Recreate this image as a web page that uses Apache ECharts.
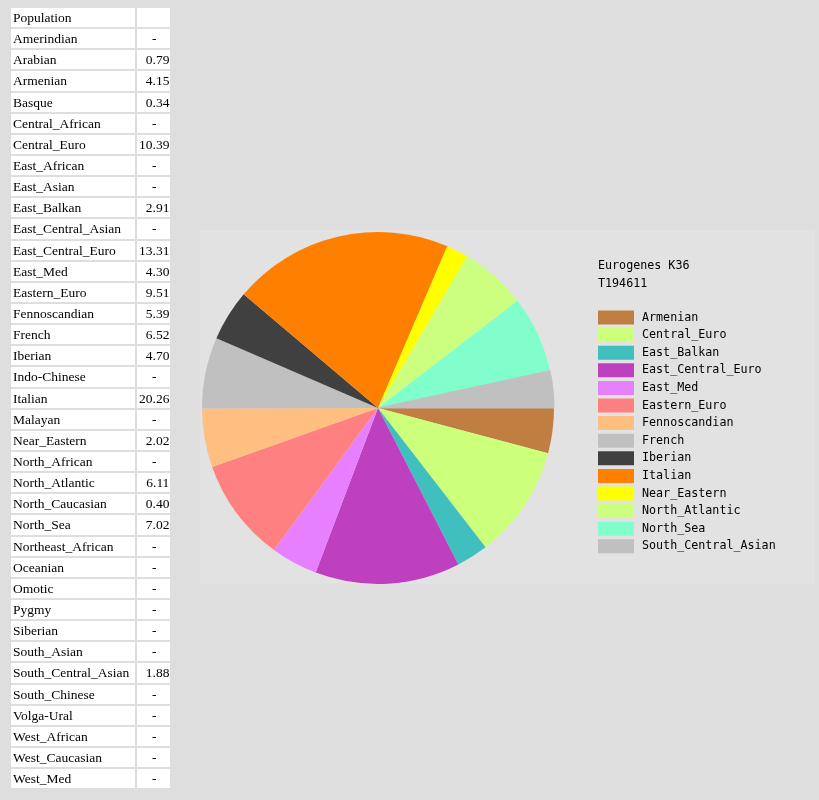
<!DOCTYPE html>
<html>
<head>
<meta charset="utf-8">
<script src="https://cdn.jsdelivr.net/npm/echarts@6/dist/echarts.min.js"></script>
<style>
  html, body { margin: 0; padding: 0; background: #dedede; }
  #page { position: relative; width: 819px; height: 800px; overflow: hidden; }
  #box { position: absolute; left: 200px; top: 230px; width: 615px; height: 354px; background: #e2e2e2; }
  #pie-chart { position: absolute; left: 0; top: 0; width: 819px; height: 800px; }
  #pop-table {
    position: absolute; left: 9px; top: 6px;
    border-collapse: separate; border-spacing: 2px;
    font-family: "Liberation Serif", serif; font-size: 13.5px; color: #000;
  }
  #pop-table td {
    background: #fff; height: 19.14px; box-sizing: border-box;
    padding: 0 1px 0 2px; line-height: 19.14px; white-space: nowrap;
  }
  #pop-table td.name { width: 124px; }
  #pop-table td.val { width: 33px; text-align: right; }
  #pop-table td.nil { text-align: center; }
</style>
</head>
<body>
<div id="page">
  <div id="box"></div>
  <div id="pie-chart"></div>
  <table id="pop-table"></table>
</div>
<script>
// K36 table (all populations, '-' = not present)
const populations = ['Amerindian', 'Arabian', 'Armenian', 'Basque', 'Central_African', 'Central_Euro',
  'East_African', 'East_Asian', 'East_Balkan', 'East_Central_Asian', 'East_Central_Euro', 'East_Med',
  'Eastern_Euro', 'Fennoscandian', 'French', 'Iberian', 'Indo-Chinese', 'Italian', 'Malayan',
  'Near_Eastern', 'North_African', 'North_Atlantic', 'North_Caucasian', 'North_Sea', 'Northeast_African',
  'Oceanian', 'Omotic', 'Pygmy', 'Siberian', 'South_Asian', 'South_Central_Asian', 'South_Chinese',
  'Volga-Ural', 'West_African', 'West_Caucasian', 'West_Med'];
const popValues = ['-', '0.79', '4.15', '0.34', '-', '10.39',
  '-', '-', '2.91', '-', '13.31', '4.30',
  '9.51', '5.39', '6.52', '4.70', '-', '20.26', '-',
  '2.02', '-', '6.11', '0.40', '7.02', '-',
  '-', '-', '-', '-', '-', '1.88', '-',
  '-', '-', '-', '-'];

// pie slices (components >= 1%)
const pieNames = ['Armenian', 'Central_Euro', 'East_Balkan', 'East_Central_Euro', 'East_Med', 'Eastern_Euro',
  'Fennoscandian', 'French', 'Iberian', 'Italian', 'Near_Eastern', 'North_Atlantic', 'North_Sea',
  'South_Central_Asian'];
const pieValues = [4.15, 10.39, 2.91, 13.31, 4.30, 9.51, 5.39, 6.52, 4.70, 20.26, 2.02, 6.11, 7.02, 1.88];
const pieColors = ['#c07f40', '#ccff7a', '#40bfbf', '#bf40bf', '#e680ff', '#ff8080', '#ffbf80', '#c0c0c0',
  '#404040', '#ff8000', '#ffff00', '#ccff80', '#80ffcc', '#c0c0c0'];
// small components (< 1%) drawn as one unlabelled grey rest slice
const restNames = ['Arabian', 'Basque', 'North_Caucasian'];
const restValues = [0.79, 0.34, 0.40];
const restColor = '#c0c0c0';

// build the table
const table = document.getElementById('pop-table');
let html = '<tr><td class="name">Population</td><td class="val"></td></tr>';
populations.forEach((p, i) => {
  const v = popValues[i];
  html += '<tr><td class="name">' + p + '</td><td class="val' + (v === '-' ? ' nil' : '') + '">' + v + '</td></tr>';
});
table.innerHTML = html;

let pieData = pieNames.map((n, i) => ({ name: n, value: pieValues[i], itemStyle: { color: pieColors[i] } }));
pieData.push({
  name: 'Other',
  value: restValues.reduce((a, b) => a + b, 0),
  itemStyle: { color: restColor }
});
// hide the seam between the two neighbouring grey slices
pieData[pieData.length - 2].itemStyle.borderColor = restColor;
pieData[pieData.length - 2].itemStyle.borderWidth = 1;
pieData[pieData.length - 1].itemStyle.borderColor = restColor;
pieData[pieData.length - 1].itemStyle.borderWidth = 1;

const myChart = echarts.init(document.getElementById('pie-chart'), null, { renderer: 'canvas' });
const monoFont = '"DejaVu Sans Mono", monospace';
const option = {
  animation: false,
  title: {
    text: 'Eurogenes K36\nT194611',
    left: 598,
    top: 257,
    padding: 0,
    textStyle: { fontFamily: monoFont, fontSize: 11.7, fontWeight: 'normal', color: '#000', lineHeight: 18 }
  },
  legend: {
    orient: 'vertical',
    left: 598,
    top: 310.5,
    padding: 0,
    itemWidth: 36,
    itemHeight: 14,
    itemGap: 3.6,
    icon: 'rect',
    selectedMode: false,
    data: pieNames,
    itemStyle: { borderWidth: 0 },
    textStyle: { fontFamily: monoFont, fontSize: 11.7, color: '#000', lineHeight: 14, padding: [0, 0, 0, 3] }
  },
  series: [
    {
      type: 'pie',
      center: [378, 408],
      radius: 176,
      startAngle: 0,
      clockwise: true,
      label: { show: false },
      labelLine: { show: false },
      emphasis: { disabled: true },
      itemStyle: { borderWidth: 0 },
      data: pieData
    }
  ]
};
myChart.setOption(option);
</script>
</body>
</html>
